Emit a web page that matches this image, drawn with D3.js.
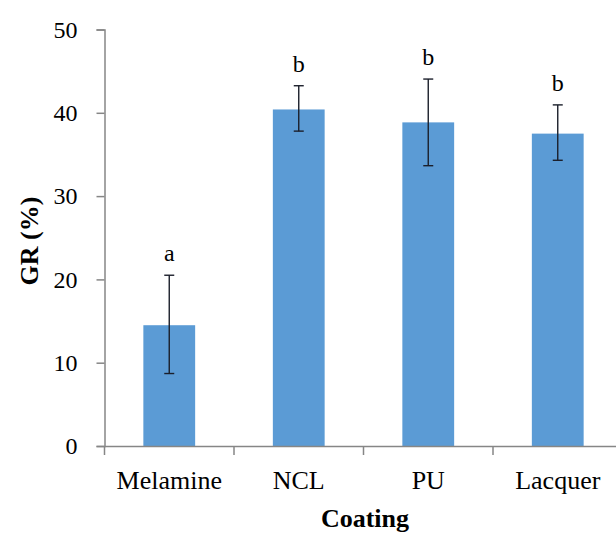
<!DOCTYPE html>
<html>
<head>
<meta charset="utf-8">
<script src="https://cdn.jsdelivr.net/npm/d3@7"></script>
<style>
	body { margin: 0; background: #fff; }
	svg { display: block; }
	text { font-family: "Liberation Serif", "Times New Roman", serif; fill: #000; }
</style>
</head>
<body>
<svg id="chart" width="616" height="534"></svg>
<script>
// values
const coatings = ['Melamine', 'NCL', 'PU', 'Lacquer'];
const grMean = [14.5, 40.4, 38.85, 37.5];
const grLow = [8.7, 37.8, 33.65, 34.3];
const grHigh = [20.5, 43.25, 44.05, 40.95];
const groups = ['a', 'b', 'b', 'b'];
const yTicks = [0, 10, 20, 30, 40, 50];

const width = 616;
const height = 534;
const margin = { left: 104.5, top: 29.5, bottom: 88 };

const svg = d3.select('#chart');

const x = d3.scaleBand()
	.domain(coatings)
	.range([margin.left, margin.left + 4 * 129.5])
	.padding(0);

const y = d3.scaleLinear()
	.domain([0, 50])
	.range([height - margin.bottom, margin.top]);

const barW = x.bandwidth() * 0.4;
const axisColor = '#868686';

// bars
svg.append('g')
	.selectAll('rect')
	.data(coatings)
	.enter()
	.append('rect')
	.attr('x', d => x(d) + (x.bandwidth() - barW) / 2)
	.attr('y', (d, i) => y(grMean[i]))
	.attr('width', barW)
	.attr('height', (d, i) => y(0) - y(grMean[i]))
	.attr('fill', '#5b9bd5');

// error bars
const err = svg.append('g')
	.attr('stroke', '#1b1f2b')
	.attr('stroke-width', 1.4);

coatings.forEach((c, i) => {
	const cx = x(c) + x.bandwidth() / 2;
	err.append('line')
		.attr('x1', cx).attr('x2', cx)
		.attr('y1', y(grLow[i])).attr('y2', y(grHigh[i]));
	[grLow[i], grHigh[i]].forEach(v => {
		err.append('line')
			.attr('x1', cx - 5).attr('x2', cx + 5)
			.attr('y1', y(v)).attr('y2', y(v));
	});
});

// significance letters
svg.append('g')
	.selectAll('text')
	.data(coatings)
	.enter()
	.append('text')
	.attr('x', d => x(d) + x.bandwidth() / 2)
	.attr('y', (d, i) => y(grHigh[i]) - 14)
	.attr('text-anchor', 'middle')
	.style('font-size', '24px')
	.text((d, i) => groups[i]);

// y axis
const yAxis = svg.append('g')
	.attr('transform', `translate(${margin.left},0)`)
	.call(d3.axisLeft(y).tickValues(yTicks).tickSize(8).tickPadding(19).tickFormat(d3.format('d')));

yAxis.selectAll('text').style('font-size', '24px');

// x axis
const xAxis = svg.append('g')
	.attr('transform', `translate(0,${y(0)})`)
	.call(d3.axisBottom(x).tickSize(0).tickPadding(24.5));

xAxis.selectAll('text').style('font-size', '26px');

xAxis.selectAll('.bound')
	.data(d3.range(coatings.length + 1))
	.enter()
	.append('line')
	.attr('class', 'bound')
	.attr('x1', i => margin.left + i * x.step())
	.attr('x2', i => margin.left + i * x.step())
	.attr('y1', 0)
	.attr('y2', 9);

svg.selectAll('.domain, .tick line, .bound')
	.attr('stroke', axisColor)
	.attr('stroke-width', 1.5);

// axis titles
svg.append('text')
	.attr('x', 365)
	.attr('y', 527)
	.attr('text-anchor', 'middle')
	.style('font-size', '26px')
	.style('font-weight', 'bold')
	.text('Coating');

svg.append('text')
	.attr('transform', 'translate(38,241) rotate(-90)')
	.attr('text-anchor', 'middle')
	.style('font-size', '26px')
	.style('font-weight', 'bold')
	.text('GR (%)');
</script>
</body>
</html>
